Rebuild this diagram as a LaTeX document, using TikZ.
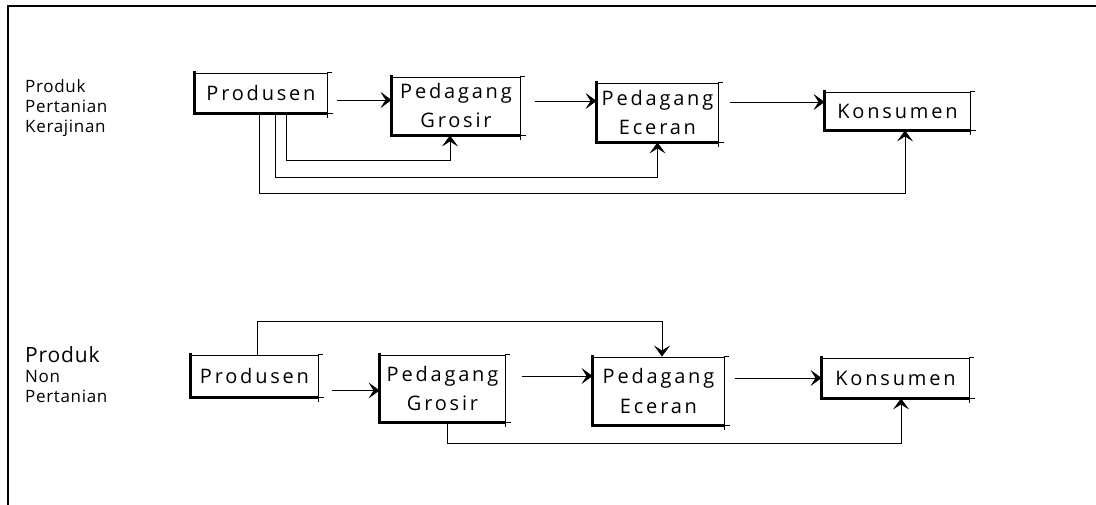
\documentclass[tikz,border=0pt]{standalone}
\usepackage{fontspec}
\setmainfont{Open Sans}[LetterSpace=14]
\newfontfamily\lblfont{Open Sans}[LetterSpace=4]
\usetikzlibrary{arrows.meta}
\newcommand{\handdeco}[1]{%
  \draw[line width=3pt] ([yshift=2pt]#1.north west) -- (#1.south west) -- (#1.south east);
  \draw[thinline] (#1.north east) -- ++(5,0);
  \draw[thinline] (#1.south east) -- ++(0,5);
  \draw[thinline] (#1.south east) -- ++(6,0);
}
\begin{document}
\begin{tikzpicture}[x=1pt,y=-1pt,
  thinline/.style={line width=0.8pt},
  box/.style={draw,line width=0.9pt,inner sep=0pt,align=center,
    font=\fontsize{20}{29}\selectfont},
  lbl/.style={anchor=west,inner sep=0pt,font=\lblfont\fontsize{17}{18}\selectfont},
  link/.style={line width=0.8pt},
  arr/.style={link,-{Stealth[length=11pt,width=16pt,inset=5pt]}}]
\useasboundingbox (0,0) rectangle (1096,505);
\fill[white] (0,0) rectangle (1096,505);
\draw[line width=1.3pt] (1096,6) -- (8,6) -- (8,505);

% left labels
\node[lbl] (t1) at (25,86) {Produk};
\node[lbl] (t2) at (25,106) {Pertanian};
\node[lbl] (t3) at (25,128) {Kerajinan};
\node[lbl,font=\lblfont\fontsize{21}{22}\selectfont] (b1) at (25,355) {Produk};
\node[lbl] (b2) at (25,377) {Non};
\node[lbl] (b3) at (25,396) {Pertanian};

% top row
\node[box,minimum width=132pt,minimum height=40pt] (P1) at (261,93) {Produsen};
\node[box,minimum width=128pt,minimum height=58pt] (G1) at (456,106) {Pedagang\\Grosir};
\node[box,minimum width=121pt,minimum height=59pt] (E1) at (657.5,112.5) {Pedagang\\Eceran};
\node[box,minimum width=145pt,minimum height=38pt] (K1) at (897.5,111) {Konsumen};
\handdeco{P1}\handdeco{G1}\handdeco{E1}\handdeco{K1}

\draw[arr] ([xshift=-55pt,yshift=6pt]G1.west) -- ([yshift=6pt]G1.west);
\draw[arr] ([xshift=-62pt,yshift=11.5pt]E1.west) -- ([yshift=11.5pt]E1.west);
\draw[arr] ([xshift=-95pt,yshift=9pt]K1.west) -- ([yshift=9pt]K1.west);
\draw[arr] ([xshift=25pt]P1.south) -- ++(0,47) -| ([xshift=-6pt]G1.south);
\draw[arr] ([xshift=14pt]P1.south) -- ++(0,64) -| (E1.south);
\draw[arr] ([xshift=-2pt]P1.south) -- ++(0,80) -| ([xshift=7.5pt]K1.south);

% bottom row
\node[box,minimum width=127pt,minimum height=42pt] (P2) at (254.5,376) {Produsen};
\node[box,minimum width=125pt,minimum height=67pt] (G2) at (442.5,388.5) {Pedagang\\Grosir};
\node[box,minimum width=131pt,minimum height=68pt] (E2) at (658.5,391) {Pedagang\\Eceran};
\node[box,minimum width=147pt,minimum height=40pt] (K2) at (895.5,378) {Konsumen};
\handdeco{P2}\handdeco{G2}\handdeco{E2}\handdeco{K2}

\draw[arr] ([xshift=2.5pt]P2.north) -- ++(0,-33) -| ([xshift=3.5pt]E2.north);
\draw[arr] ([xshift=-48pt,yshift=-2pt]G2.west) -- ([yshift=-2pt]G2.west);
\draw[arr] ([xshift=-71pt,yshift=15pt]E2.west) -- ([yshift=15pt]E2.west);
\draw[arr] ([xshift=-87pt]K2.west) -- (K2.west);
\draw[arr] ([xshift=4.5pt]G2.south) -- ++(0,21) -| ([xshift=5.5pt]K2.south);
\end{tikzpicture}
\end{document}
